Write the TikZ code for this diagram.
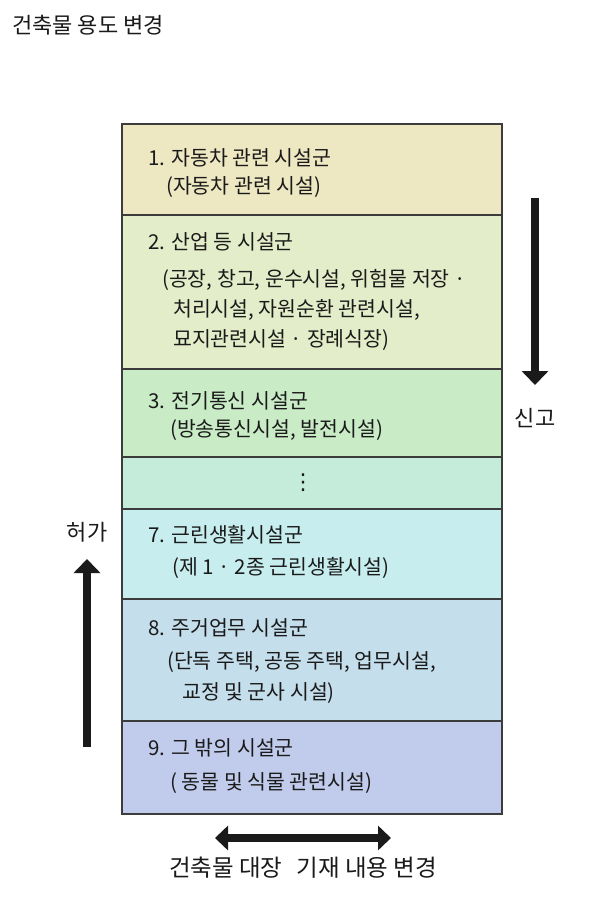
\documentclass[tikz,border=0pt]{standalone}
\usepackage{fontspec}
\setmainfont{Noto Sans CJK KR}
\newfontfamily\symfont{DejaVu Sans}
\usetikzlibrary{arrows.meta}
\definecolor{cA}{HTML}{EDE7C2}
\definecolor{cB}{HTML}{E4EDC9}
\definecolor{cC}{HTML}{C9ECC7}
\definecolor{cD}{HTML}{C5EBDA}
\definecolor{cE}{HTML}{C7EDEE}
\definecolor{cF}{HTML}{C4DEEC}
\definecolor{cG}{HTML}{C1CCEC}
\definecolor{ink}{HTML}{1A1A1A}
\tikzset{
  band/.style={draw=ink!85, line width=1.1pt, anchor=north west, minimum width=380pt, inner sep=0pt, outer sep=0pt},
  txt/.style={anchor=west, inner sep=0pt, font=\fontsize{20.5}{24}\selectfont, text=ink},
  lbl/.style={inner sep=0pt, font=\fontsize{22}{26}\selectfont, text=ink},
  bigarrow/.style={line width=8pt, draw=ink, -{Triangle[width=26pt,length=14pt]}},
  dblarrow/.style={line width=8pt, draw=ink, {Triangle[width=24pt,length=13pt]}-{Triangle[width=24pt,length=13pt]}}
}
\begin{document}
\begin{tikzpicture}[x=1pt,y=-1pt]
\useasboundingbox (0,0) rectangle (591,902);
\node[lbl, anchor=west, font=\fontsize{22}{26}\selectfont] (title) at (12,25) {건축물 용도 변경};

\node[band, fill=cA, minimum height=91pt] (b1) at (122,124) {};
\node[band, fill=cB, minimum height=154pt] (b2) at (122,215) {};
\node[band, fill=cC, minimum height=88pt] (b3) at (122,369) {};
\node[band, fill=cD, minimum height=52pt] (b4) at (122,457) {};
\node[band, fill=cE, minimum height=90pt] (b5) at (122,509) {};
\node[band, fill=cF, minimum height=122pt] (b6) at (122,599) {};
\node[band, fill=cG, minimum height=93pt] (b7) at (122,721) {};

\node[txt] (t1a) at (148,158) {1. 자동차 관련 시설군};
\node[txt] (t1b) at (166,187) {(자동차 관련 시설)};

\node[txt] (t2a) at (148,242) {2. 산업 등 시설군};
\node[txt] (t2b) at (162,280) {(공장, 창고, 운수시설, 위험물 저장 ·};
\node[txt] (t2c) at (173,310) {처리시설, 자원순환 관련시설,};
\node[txt] (t2d) at (173,340) {묘지관련시설 · 장례식장)};

\node[txt] (t3a) at (148,401) {3. 전기통신 시설군};
\node[txt] (t3b) at (170,430) {(방송통신시설, 발전시설)};

\node[txt, anchor=center, font=\symfont\fontsize{22}{24}\selectfont] (dots) at (303,483) {⋮};

\node[txt] (t7a) at (148,535) {7. 근린생활시설군};
\node[txt] (t7b) at (172,568) {(제 1 · 2종 근린생활시설)};

\node[txt] (t8a) at (148,628) {8. 주거업무 시설군};
\node[txt] (t8b) at (167,662) {(단독 주택, 공동 주택, 업무시설,};
\node[txt] (t8c) at (182,693) {교정 및 군사 시설)};

\node[txt] (t9a) at (148,748) {9. 그 밖의 시설군};
\node[txt] (t9b) at (170,783) {( 동물 및 식물 관련시설)};

% right arrow: 신고
\coordinate (rs) at (535,198);
\coordinate (re) at (535,385);
\draw[bigarrow] (rs) -- (re);
\node[lbl] (singo) at (535,418) {신고};

% left arrow: 허가
\coordinate (ls) at (87,747);
\coordinate (le) at (87,559);
\draw[bigarrow] (ls) -- (le);
\node[lbl] (heoga) at (87,532) {허가};

% bottom double arrow
\coordinate (bs) at (215,838);
\coordinate (be) at (391,838);
\draw[dblarrow] (bs) -- (be);
\node[lbl, font=\fontsize{23.5}{26}\selectfont] (daejang) at (303,868) {건축물 대장\hspace{0.6em}기재 내용 변경};
\end{tikzpicture}
\end{document}
